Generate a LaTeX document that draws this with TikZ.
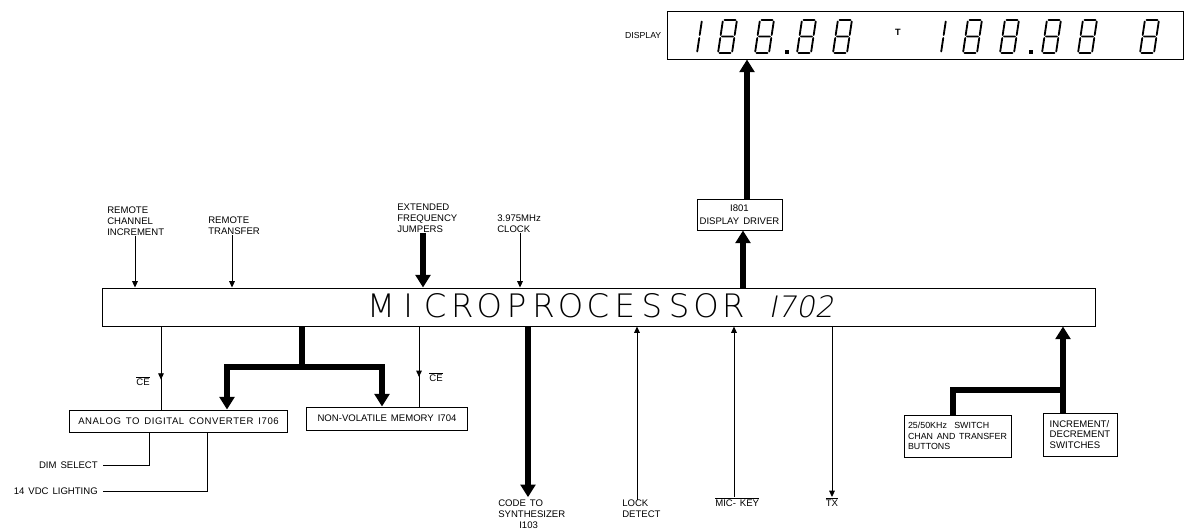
\documentclass[tikz,border=0pt]{standalone}
\usepackage{fontspec}
\setmainfont{Liberation Sans}[WordSpace=1.5]
\newfontfamily\procfont{DejaVu Sans ExtraLight}[AutoFakeSlant=0.2]
\usepackage{tikz}
\usetikzlibrary{arrows.meta,positioning,decorations.markings}

\tikzset{
  pics/segeight/.style={code={
    \draw[segline, xslant=0.15] (1.5,0) -- (12.5,0) (1.5,-16.5) -- (12.5,-16.5) (1.5,-33) -- (12.5,-33)
      (0,-1.5) -- (0,-15) (0,-18) -- (0,-31.5)
      (14,-1.5) -- (14,-15) (14,-18) -- (14,-31.5);
  }},
  pics/segone/.style={code={
    \draw[segline, xslant=0.15] (0,-1.5) -- (0,-15) (0,-18) -- (0,-31.5);
  }}
}

\begin{document}
\begin{tikzpicture}[x=0.025cm, y=-0.025cm,
    box/.style={draw, line width=0.7pt, inner sep=0pt, font=\fontsize{6.8}{7.5}\selectfont},
    lbl/.style={font=\fontsize{6.8}{7.6}\selectfont, inner sep=0pt, align=left},
    wire/.style={line width=0.6pt},
    sig/.style={wire, -{Triangle[length=4.5pt,width=4pt]}},
    busline/.style={line width=4.8pt},
    bus/.style={busline, -{Triangle[length=9pt,width=10.5pt]}},
    midtip/.style={wire, postaction={decorate}, decoration={markings, mark=at position #1 with {\arrow{Triangle[length=4.5pt,width=4pt]}}}},
    segline/.style={line width=1.3pt, line cap=round},
    bigletter/.style={font=\procfont\fontsize{23}{23}\selectfont, inner sep=0pt, anchor=base}]
    \useasboundingbox (0,0) rectangle (1185,529);

    % Microprocessor block
    \node[box, minimum width=24.8cm, minimum height=0.95cm] (mp) at (599,307) {};
    \foreach \ch [count=\i] in {M,I,C,R,O,P,R,O,C,E,S,S,O,R}
        \node[bigletter] (mpl\i) at ({381+27.1*(\i-1)},317) {\ch};
    \node[bigletter, anchor=base west, font=\procfont\itshape\fontsize{21}{21}\selectfont] (mpnum) at (768,317) {I702};

    % Display and driver
    \node[box, minimum width=12.875cm, minimum height=1.2cm] (disp) at (925.5,35) {};
    \node[lbl, font=\fontsize{6.2}{7}\selectfont, left=4.2pt of disp] (displbl) {DISPLAY};
    \node[lbl, font=\bfseries\fontsize{6.5}{7}\selectfont] (tmark) at (898,32) {T};
    \foreach \dx in {697,941} \pic at (\dx,53) {segone};
    \foreach \dx in {718,755,797,833,963,1000,1042,1078,1140} \pic at (\dx,53) {segeight};
    \foreach \dx in {785,1029} \fill (\dx,50) rectangle ++(4,4);
    \node[box, minimum width=2.125cm, minimum height=0.775cm, align=center] (drv) at (739.5,214.5) {I801\\[2pt]DISPLAY DRIVER};
    \coordinate (drvbus) at (743,0);
    \coordinate (dispbus) at (747,0);
    \draw[bus] (drvbus |- mp.north) -- (drvbus |- drv.south);
    \draw[bus] (dispbus |- drv.north) -- (dispbus |- disp.south);

    % Inputs on top
    \node[lbl, anchor=north west] (rci) at (107,207) {REMOTE\\CHANNEL\\INCREMENT};
    \node[lbl, anchor=north west] (rtr) at (208,217) {REMOTE\\TRANSFER};
    \node[lbl, anchor=north west] (efj) at (397,204) {EXTENDED\\FREQUENCY\\JUMPERS};
    \node[lbl, anchor=north west] (clk) at (497,215) {3.975MHz\\CLOCK};
    \draw[sig] (rci.south -| 135,0) -- (135,0 |- mp.north);
    \draw[sig] (rtr.south -| 232,0) -- (232,0 |- mp.north);
    \draw[bus] (efj.south -| 423,0) -- (423,0 |- mp.north);
    \draw[sig] (clk.south -| 520,0) -- (520,0 |- mp.north);

    % A/D converter and memory
    \node[box, minimum width=5.425cm, minimum height=0.55cm, font=\addfontfeature{LetterSpace=6}\fontsize{6.8}{7.5}\selectfont] (adc) at (178.5,421) {ANALOG TO DIGITAL CONVERTER I706};
    \node[box, minimum width=4cm, minimum height=0.575cm] (nvm) at (387,418.5) {NON-VOLATILE MEMORY I704};
    \draw[midtip=0.64] (161,0 |- mp.south) -- (161,0 |- adc.north);
    \node[lbl] (cel) at (143,381) {$\overline{\mbox{CE}}$};
    \draw[midtip=0.63] (419,0 |- mp.south) -- (419,0 |- nvm.north);
    \node[lbl] (cer) at (436,377) {$\overline{\mbox{CE}}$};
    \coordinate (busjoin) at (302,367);
    \draw[busline] (busjoin |- mp.south) -- (busjoin);
    \draw[bus] (busjoin) -| (227,0 |- adc.north);
    \draw[bus] (busjoin) -| (382,0 |- nvm.north);
    \node[lbl, anchor=east] (dim) at (98,465) {DIM SELECT};
    \node[lbl, anchor=east] (lamp) at (98,491) {14 VDC LIGHTING};
    \draw[wire] (149,0 |- adc.south) |- ([xshift=3.5pt]dim.east);
    \draw[wire] (207,0 |- adc.south) |- ([xshift=3.5pt]lamp.east);

    % Outputs below
    \node[lbl, anchor=north west] (code) at (498,500) {CODE TO\\SYNTHESIZER\\\hspace*{2.2em}I103};
    \draw[bus, shorten >=2pt] (528,0 |- mp.south) -- (528,0 |- code.north);
    \node[lbl, anchor=north west] (lock) at (622,500) {LOCK\\DETECT};
    \draw[sig] (637,0 |- lock.north) -- (637,0 |- mp.south);
    \node[lbl, anchor=north west] (mic) at (715,497) {$\overline{\mbox{MIC- KEY}}$};
    \draw[sig] (734,0 |- mic.north) -- (734,0 |- mp.south);
    \node[lbl, anchor=north] (tx) at (832,497) {$\overline{\mbox{TX}}$};
    \draw[sig] (832,0 |- mp.south) -- (tx.north);

    % Switches on the right
    \node[box, minimum width=2.675cm, minimum height=1.05cm, align=left, font=\fontsize{6.3}{7.5}\selectfont] (sw) at (957.5,436) {25/50KHz\ \ SWITCH\\CHAN AND TRANSFER\\BUTTONS};
    \node[box, minimum width=1.85cm, minimum height=1.075cm, align=left] (incdec) at (1080,434.5) {INCREMENT/\\DECREMENT\\SWITCHES};
    \coordinate (rbus) at (1063,390);
    \draw[bus] (rbus |- incdec.north) -- (rbus |- mp.south);
    \draw[busline] (953,0 |- sw.north) |- (rbus);
\end{tikzpicture}
\end{document}
